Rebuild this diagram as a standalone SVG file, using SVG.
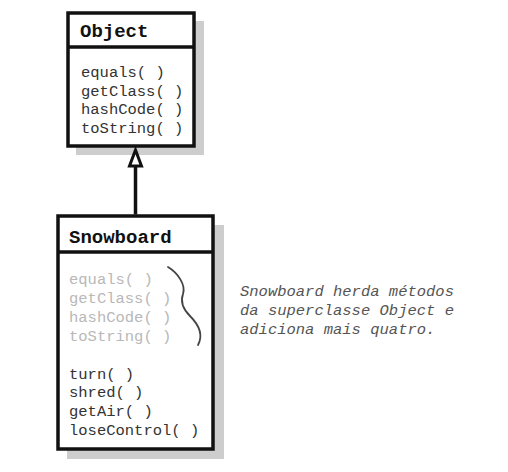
<svg xmlns="http://www.w3.org/2000/svg" width="508" height="472" viewBox="0 0 508 472">
<style>
.shadow{fill:#cdcdcd}
.box{fill:#fff;stroke:#111;stroke-width:3.5}
.div{stroke:#111;stroke-width:3.5}
.hdr{font-family:"Liberation Mono","Courier New",monospace;font-weight:bold;font-size:19px;fill:#111}
.m{font-family:"Liberation Mono","Courier New",monospace;font-size:15.5px;fill:#333}
.inh{fill:#b8b8b8}
.note{font-family:"Liberation Mono","Courier New",monospace;font-style:italic;font-size:15.5px;fill:#555}
</style>
<rect width="508" height="472" fill="#fff"/>
<g id="object">
<rect class="shadow" x="76" y="21" width="128" height="134"/>
<rect class="box" x="68" y="13" width="126" height="133"/>
<line class="div" x1="68" y1="47" x2="194" y2="47"/>
<text class="hdr" x="80" y="37">Object</text>
<text class="m" x="81" y="77">equals( )</text>
<text class="m" x="81" y="96">getClass( )</text>
<text class="m" x="81" y="114">hashCode( )</text>
<text class="m" x="81" y="133">toString( )</text>
</g>
<g id="snowboard">
<rect class="shadow" x="67" y="225" width="157" height="234"/>
<rect class="box" x="58" y="216" width="155" height="233"/>
<line class="div" x1="58" y1="252" x2="213" y2="252"/>
<text class="hdr" x="69" y="243">Snowboard</text>
<text class="m inh" x="69" y="284">equals( )</text>
<text class="m inh" x="69" y="303">getClass( )</text>
<text class="m inh" x="69" y="322">hashCode( )</text>
<text class="m inh" x="69" y="341">toString( )</text>
<text class="m" x="69" y="379">turn( )</text>
<text class="m" x="69" y="397">shred( )</text>
<text class="m" x="69" y="416">getAir( )</text>
<text class="m" x="69" y="435">loseControl( )</text>
<path d="M168,267 C178,273 186,285 183,294 C180,302 183,309 190,316 C198,324 204,334 198,345" fill="none" stroke="#444" stroke-width="1.8" stroke-linecap="round"/>
</g>
<g id="note">
<text class="note" x="240" y="296">Snowboard herda métodos</text>
<text class="note" x="240" y="315">da superclasse Object e</text>
<text class="note" x="240" y="334">adiciona mais quatro.</text>
</g>
<g id="connectors">
<line x1="135.5" y1="165" x2="135.5" y2="214.5" stroke="#111" stroke-width="3.5"/>
<polygon points="135.5,150 129.5,166 141.5,166" fill="#fff" stroke="#111" stroke-width="3" stroke-linejoin="miter"/>
</g>
</svg>
